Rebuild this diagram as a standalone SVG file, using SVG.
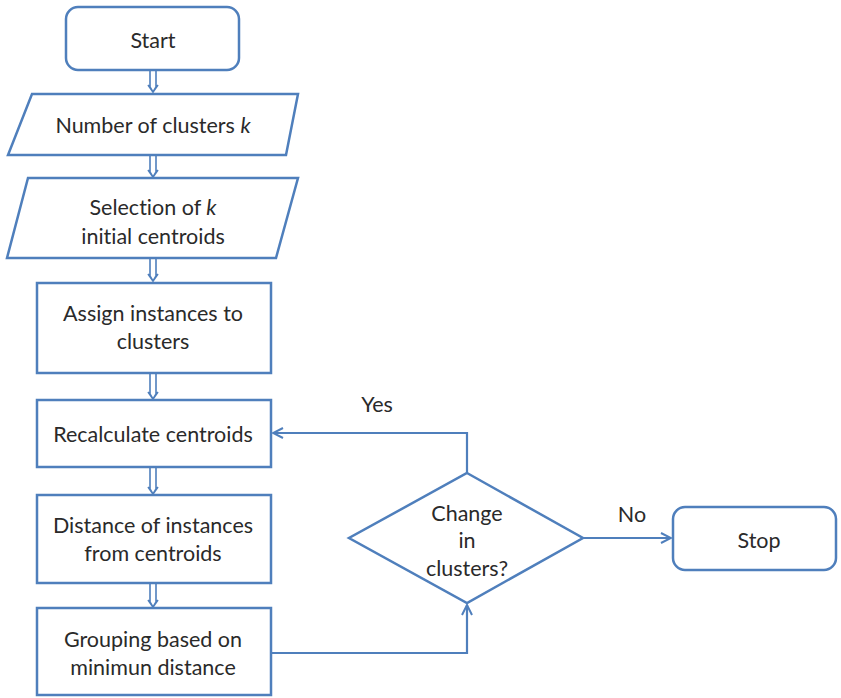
<svg xmlns="http://www.w3.org/2000/svg" width="841" height="698" viewBox="0 0 841 698">
  <defs>
    <style>
      .shape { fill: #ffffff; stroke: #4f7fbc; stroke-width: 2.5; }
      .edge { fill: none; stroke: #4f7fbc; stroke-width: 2.2; }
      .dbl { fill: none; stroke: #4f7fbc; stroke-width: 1.6; }
      .label { font-family: Lato, "Open Sans", "Liberation Sans", sans-serif; font-size: 21.5px; fill: #2a2a2a; text-anchor: middle; dominant-baseline: central; font-variant-ligatures: none; font-feature-settings: "liga" 0, "dlig" 0; }
    </style>
    <marker id="open" viewBox="0 0 12 12" refX="11" refY="6" markerWidth="12" markerHeight="12" markerUnits="userSpaceOnUse" orient="auto">
      <path d="M1,1 L11,6 L1,11" fill="none" stroke="#4f7fbc" stroke-width="2"/>
    </marker>
  </defs>
  <rect width="841" height="698" fill="#ffffff"/>

  <g id="connectors">
    <!-- hollow double-line arrows down the main column -->
    <path class="dbl" d="M150,70 V87 L153,92 L156,87 V70 M148,85 L153,92 L158,85"/>
    <path class="dbl" d="M150,155 V172 L153,177 L156,172 V155 M148,170 L153,177 L158,170"/>
    <path class="dbl" d="M150,258 V276 L153,281 L156,276 V258 M148,274 L153,281 L158,274"/>
    <path class="dbl" d="M150,373 V394 L153,399 L156,394 V373 M148,392 L153,399 L158,392"/>
    <path class="dbl" d="M150,467 V489 L153,494 L156,489 V467 M148,487 L153,494 L158,487"/>
    <path class="dbl" d="M150,583 V602 L153,607 L156,602 V583 M148,600 L153,607 L158,600"/>
    <!-- loop and exit -->
    <path class="edge" d="M272,653 H467 V605" marker-end="url(#open)"/>
    <path class="edge" d="M467,473 V433 H273" marker-end="url(#open)"/>
    <path class="edge" d="M583,538 H671" marker-end="url(#open)"/>
    <text class="label" x="377" y="404">Yes</text>
    <text class="label" x="632" y="514">No</text>
  </g>

  <g id="start">
    <rect class="shape" x="66" y="7" width="173" height="63" rx="12"/>
    <text class="label" x="153" y="40">Start</text>
  </g>

  <g id="clusters-k">
    <polygon class="shape" points="32,94 298,94 286,155 8,155"/>
    <text class="label" x="153" y="125">Number of clusters <tspan font-style="italic">k</tspan></text>
  </g>

  <g id="initial-centroids">
    <polygon class="shape" points="28,178 298,178 276,258 7,258"/>
    <text class="label" x="153" y="207">Selection of <tspan font-style="italic">k</tspan></text>
    <text class="label" x="153" y="236">initial centroids</text>
  </g>

  <g id="assign">
    <rect class="shape" x="37" y="283" width="234" height="90"/>
    <text class="label" x="153" y="313">Assign instances to</text>
    <text class="label" x="153" y="341">clusters</text>
  </g>

  <g id="recalculate">
    <rect class="shape" x="37" y="400" width="234" height="67"/>
    <text class="label" x="153" y="434">Recalculate centroids</text>
  </g>

  <g id="distance">
    <rect class="shape" x="37" y="495" width="234" height="88"/>
    <text class="label" x="153" y="525">Distance of instances</text>
    <text class="label" x="153" y="553">from centroids</text>
  </g>

  <g id="grouping">
    <rect class="shape" x="37" y="608" width="234" height="87"/>
    <text class="label" x="153" y="639">Grouping based on</text>
    <text class="label" x="153" y="667">minimun distance</text>
  </g>

  <g id="decision">
    <polygon class="shape" points="467,473 583,538 467,603 349,538"/>
    <text class="label" x="467" y="513">Change</text>
    <text class="label" x="467" y="540">in</text>
    <text class="label" x="467" y="568">clusters?</text>
  </g>

  <g id="stop">
    <rect class="shape" x="673" y="507" width="163" height="63" rx="12"/>
    <text class="label" x="759" y="540">Stop</text>
  </g>
</svg>
